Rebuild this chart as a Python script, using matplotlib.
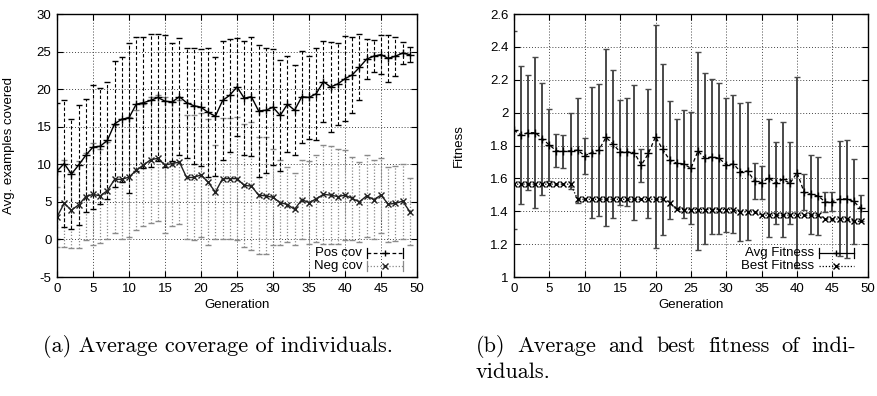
import numpy as np
import matplotlib.pyplot as plt

generations = list(range(50))

# left panel: positive / negative examples covered (mean, std)
pos_mean = [9.1, 10.1, 8.7, 9.9, 11.2, 12.3, 12.4, 13.2, 15.4, 16.0,
            16.2, 18.0, 18.2, 18.5, 18.9, 18.4, 18.3, 19.0, 18.2, 17.8,
            17.6, 16.9, 16.4, 18.5, 19.2, 20.3, 18.8, 19.0, 17.1, 17.2,
            17.6, 16.5, 18.0, 17.2, 19.0, 18.9, 19.4, 21.0, 20.3, 20.7,
            21.4, 21.9, 22.9, 24.0, 24.4, 24.6, 24.1, 24.4, 24.8, 24.6]
pos_std = [9.0, 8.4, 7.3, 8.0, 7.5, 8.2, 7.7, 7.8, 8.4, 8.3,
           10.0, 8.9, 8.7, 8.8, 8.4, 8.8, 7.9, 7.8, 7.3, 7.7,
           7.8, 8.6, 7.9, 7.9, 7.5, 6.5, 7.6, 7.9, 8.8, 8.3,
           7.7, 7.4, 6.4, 6.0, 6.1, 5.5, 6.1, 5.4, 6.0, 5.5,
           5.7, 5.1, 4.4, 2.7, 2.1, 2.6, 3.1, 2.6, 1.5, 1.0]
neg_mean = [3.0, 4.8, 3.9, 4.6, 5.7, 6.0, 5.8, 6.5, 8.0, 8.0,
            8.3, 9.2, 9.9, 10.6, 10.8, 9.9, 10.1, 10.3, 8.25, 8.25,
            8.6, 7.6, 6.3, 8.1, 8.1, 8.1, 7.2, 7.1, 5.9, 5.8,
            5.6, 4.9, 4.65, 4.0, 5.3, 4.9, 5.4, 6.0, 5.9, 5.7,
            5.9, 5.45, 5.0, 5.8, 5.3, 5.9, 4.7, 4.8, 5.1, 3.7]
neg_std = [4.0, 5.8, 5.1, 5.8, 5.8, 6.8, 6.3, 6.5, 7.2, 8.0,
           7.95, 8.0, 8.1, 8.4, 8.4, 9.0, 8.3, 8.2, 8.25, 8.35,
           8.25, 8.4, 6.3, 8.0, 8.1, 8.2, 8.2, 8.5, 7.8, 7.8,
           6.4, 5.7, 4.95, 4.8, 5.3, 5.5, 5.8, 6.6, 6.5, 6.3,
           6.0, 5.5, 5.3, 5.5, 5.3, 5.0, 5.0, 5.0, 5.0, 4.5]

# right panel: fitness
avg_fit = [1.894, 1.864, 1.878, 1.878, 1.842, 1.803, 1.768, 1.764, 1.768, 1.772,
           1.738, 1.757, 1.772, 1.850, 1.809, 1.760, 1.762, 1.757, 1.681, 1.752,
           1.854, 1.777, 1.712, 1.692, 1.688, 1.661, 1.767, 1.722, 1.732, 1.722,
           1.682, 1.688, 1.641, 1.645, 1.584, 1.574, 1.604, 1.570, 1.594, 1.570,
           1.635, 1.515, 1.503, 1.493, 1.455, 1.459, 1.475, 1.475, 1.460, 1.418]
avg_fit_std = [0.60, 0.42, 0.35, 0.46, 0.34, 0.22, 0.10, 0.10, 0.23, 0.32,
               0.11, 0.40, 0.40, 0.54, 0.45, 0.32, 0.33, 0.41, 0.10, 0.39,
               0.68, 0.52, 0.36, 0.27, 0.33, 0.34, 0.60, 0.52, 0.47, 0.46,
               0.41, 0.42, 0.42, 0.42, 0.11, 0.10, 0.36, 0.25, 0.35, 0.25,
               0.58, 0.11, 0.24, 0.24, 0.06, 0.06, 0.35, 0.36, 0.26, 0.08]
best_fit = [1.565, 1.565, 1.565, 1.565, 1.565, 1.565, 1.565, 1.565, 1.565, 1.473,
            1.473, 1.473, 1.473, 1.473, 1.473, 1.473, 1.473, 1.473, 1.473, 1.473,
            1.473, 1.473, 1.452, 1.412, 1.410, 1.410, 1.410, 1.410, 1.410, 1.410,
            1.410, 1.410, 1.396, 1.396, 1.396, 1.376, 1.376, 1.376, 1.376, 1.376,
            1.376, 1.376, 1.376, 1.376, 1.353, 1.353, 1.353, 1.353, 1.339, 1.339]

caption_a = '(a) Average coverage of individuals.'
caption_b = ['(b) Average and best fitness of indi-', 'viduals.']

plt.rcParams['font.family'] = ['Liberation Sans', 'DejaVu Sans']

W, H = 877, 396
fig = plt.figure(figsize=(W / 100, H / 100), dpi=100)
ax1 = fig.add_axes([0.065, 0.3005, 0.4105, 0.664])
ax2 = fig.add_axes([0.586, 0.3005, 0.4036, 0.664])

for ax in (ax1, ax2):
    ax.grid(True, linestyle=(0, (1, 2)), color='#444444', linewidth=0.7)
    ax.set_axisbelow(True)
    ax.tick_params(direction='in', top=True, right=True, length=4,
                   labelsize=9.5, pad=4)
    for s in ax.spines.values():
        s.set_linewidth(1.0)
    ax.set_xlim(0, 50)
    ax.set_xticks(range(0, 51, 5))
    ax.set_xlabel('Generation', fontsize=9.5, labelpad=3)

# ---- left
eb = ax1.errorbar(generations, neg_mean, yerr=neg_std, color='#222222',
                  marker='x', ms=4.5, mew=1.0, lw=1.0, ecolor='#8a8a8a',
                  elinewidth=0.9, capsize=2)
eb[2][0].set_linestyle((0, (1, 1.5)))
eb = ax1.errorbar(generations, pos_mean, yerr=pos_std, color='black',
                  marker='+', ms=6, mew=1.0, lw=1.0, ecolor='black',
                  elinewidth=0.8, capsize=2)
eb[2][0].set_linestyle((0, (3, 2)))

ax1.set_ylim(-5, 30)
ax1.set_yticks(range(-5, 31, 5))
ax1.set_yticklabels([str(v) for v in range(-5, 31, 5)])
ax1.set_ylabel('Avg. examples covered', fontsize=9.5)
ax1.yaxis.set_label_coords(-0.117, 0.5)

# legend drawn gnuplot-style (text, then sample)
def key(ax, y, label, ls, color, marker, caps=True, lcolor=None):
    tr = ax.transAxes
    x0, x1 = 0.862, 0.960
    ax.text(0.848, y, label, transform=tr, ha='right', va='center', fontsize=9.5)
    ax.plot([x0, x1], [y, y], transform=tr, ls=ls, color=lcolor or color, lw=0.9,
            clip_on=False)
    if caps:
        for xc in (x0, x1):
            ax.plot([xc, xc], [y - 0.018, y + 0.018], transform=tr,
                    color=lcolor or color, lw=0.9, clip_on=False)
    ax.plot([(x0 + x1) / 2], [y], transform=tr, marker=marker, color=color,
            ms=5, mew=1.0, clip_on=False)

key(ax1, 0.091, 'Pos cov', (0, (3, 2)), 'black', '+')
key(ax1, 0.042, 'Neg cov', (0, (1, 1.5)), '#222222', 'x', lcolor='#8a8a8a')

# ---- right
eb = ax2.errorbar(generations, avg_fit, yerr=avg_fit_std, fmt='none',
                  ecolor='#4a4a4a', elinewidth=1.4, capsize=2.5)
for c in eb[1]:
    c.set_color('black')
ax2.plot(generations, avg_fit, ls=(0, (3, 2)), color='black', lw=0.9,
         marker='+', ms=6, mew=1.0)
ax2.plot(generations, best_fit, ls=(0, (1, 1.5)), color='black', lw=0.9,
         marker='x', ms=4.5, mew=1.0)

ax2.set_ylim(1, 2.6)
yt = [1, 1.2, 1.4, 1.6, 1.8, 2, 2.2, 2.4, 2.6]
ax2.set_yticks(yt)
ax2.set_yticklabels(['%g' % v for v in yt])
ax2.set_ylabel('Fitness', fontsize=9.5)
ax2.yaxis.set_label_coords(-0.138, 0.5)

key(ax2, 0.091, 'Avg Fitness', '-', 'black', '+')
key(ax2, 0.042, 'Best Fitness', (0, (1, 1.5)), 'black', 'x', caps=False)

# captions (latex-like, second one justified)
cap = dict(family='cmr10', fontsize=16, va='baseline')
fig.text(43 / W, 1 - 352 / H, caption_a, **cap)

renderer = fig.canvas.get_renderer()
words = caption_b[0].split(' ')
x_start, x_end = 476, 856
texts = [fig.text(0, 1 - 352 / H, w, **cap) for w in words]
widths = [t.get_window_extent(renderer).width for t in texts]
gap = (x_end - x_start - sum(widths)) / (len(words) - 1)
x = x_start
for t, w in zip(texts, widths):
    t.set_x(x / W)
    x += w + gap
fig.text(x_start / W, 1 - 378 / H, caption_b[1], **cap)

fig.savefig('out.png', dpi=100)
